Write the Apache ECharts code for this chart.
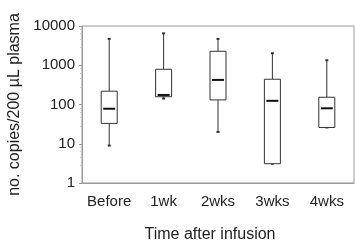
<!DOCTYPE html>
<html>
<head>
<meta charset="utf-8">
<script src="https://cdn.jsdelivr.net/npm/echarts@6/dist/echarts.min.js"></script>
<style>
  html, body { margin: 0; padding: 0; background: #fff; }
  #box { width: 355px; height: 242px; }
</style>
</head>
<body>
<div id="box"></div>
<script>
// categories and five-number summaries
var categories = ['Before', '1wk', '2wks', '3wks', '4wks'];
var lowWhisker = [9, 142, 20, 3.1, 26];
var q1 = [33, 158, 131, 3.1, 26];
var median = [78, 175, 423, 124, 80];
var q3 = [218, 790, 2270, 440, 153];
var highWhisker = [4700, 6500, 4700, 2020, 1340];
var yTicks = [1, 10, 100, 1000, 10000];

var boxData = categories.map(function (c, i) {
    return [i, lowWhisker[i], q1[i], median[i], q3[i], highWhisker[i]];
});

var chart = echarts.init(document.getElementById('box'));

function renderBox(params, api) {
    var i = api.value(0);
    var lo = api.coord([i, api.value(1)]);
    var b1 = api.coord([i, api.value(2)]);
    var md = api.coord([i, api.value(3)]);
    var b3 = api.coord([i, api.value(4)]);
    var hi = api.coord([i, api.value(5)]);
    var x = lo[0];
    var hw = 8;
    var line = { stroke: '#333', lineWidth: 1 };
    return {
        type: 'group',
        children: [
            { type: 'line', shape: { x1: x, y1: hi[1], x2: x, y2: b3[1] }, style: line },
            { type: 'line', shape: { x1: x, y1: b1[1], x2: x, y2: lo[1] }, style: line },
            { type: 'line', shape: { x1: x - 1.5, y1: hi[1], x2: x + 1.5, y2: hi[1] }, style: { stroke: '#333', lineWidth: 2 } },
            { type: 'line', shape: { x1: x - 1.5, y1: lo[1], x2: x + 1.5, y2: lo[1] }, style: { stroke: '#333', lineWidth: 2 } },
            { type: 'rect', shape: { x: x - hw, y: b3[1], width: hw * 2, height: b1[1] - b3[1] },
              style: { fill: '#fff', stroke: '#333', lineWidth: 1 } },
            { type: 'line', shape: { x1: x - 6, y1: md[1], x2: x + 6, y2: md[1] }, style: { stroke: '#111', lineWidth: 2 } }
        ]
    };
}

var option = {
    animation: false,
    textStyle: { fontFamily: 'Liberation Sans' },
    grid: {
        left: 82, right: 1, top: 26, bottom: 59,
        outerBoundsMode: 'none',
        show: true, borderColor: '#999', borderWidth: 1
    },
    xAxis: {
        type: 'category',
        data: categories,
        name: 'Time after infusion',
        nameLocation: 'middle',
        nameGap: 44,
        nameTextStyle: { fontSize: 16, color: '#222', padding: [0, 16, 0, 0] },
        axisLine: { lineStyle: { color: '#999' } },
        axisTick: { show: false },
        axisLabel: { fontSize: 15, color: '#222', margin: 11, interval: 0 }
    },
    yAxis: {
        type: 'log',
        logBase: 10,
        min: yTicks[0],
        max: yTicks[yTicks.length - 1],
        name: 'no. copies/200 µL plasma',
        nameLocation: 'middle',
        nameGap: 51,
        nameTextStyle: { fontSize: 16, color: '#222' },
        axisLine: { show: true, lineStyle: { color: '#999' } },
        axisTick: { show: true, length: 3, lineStyle: { color: '#999' } },
        minorTick: { show: true, length: 2, lineStyle: { color: '#ccc' } },
        splitLine: { show: false },
        axisLabel: {
            fontSize: 15, color: '#222', margin: 7,
            formatter: function (v) { return String(Math.round(v)); }
        }
    },
    series: [
        {
            type: 'custom',
            renderItem: renderBox,
            encode: { x: 0, y: [1, 2, 3, 4, 5] },
            data: boxData
        }
    ]
};

chart.setOption(option);
</script>
</body>
</html>
